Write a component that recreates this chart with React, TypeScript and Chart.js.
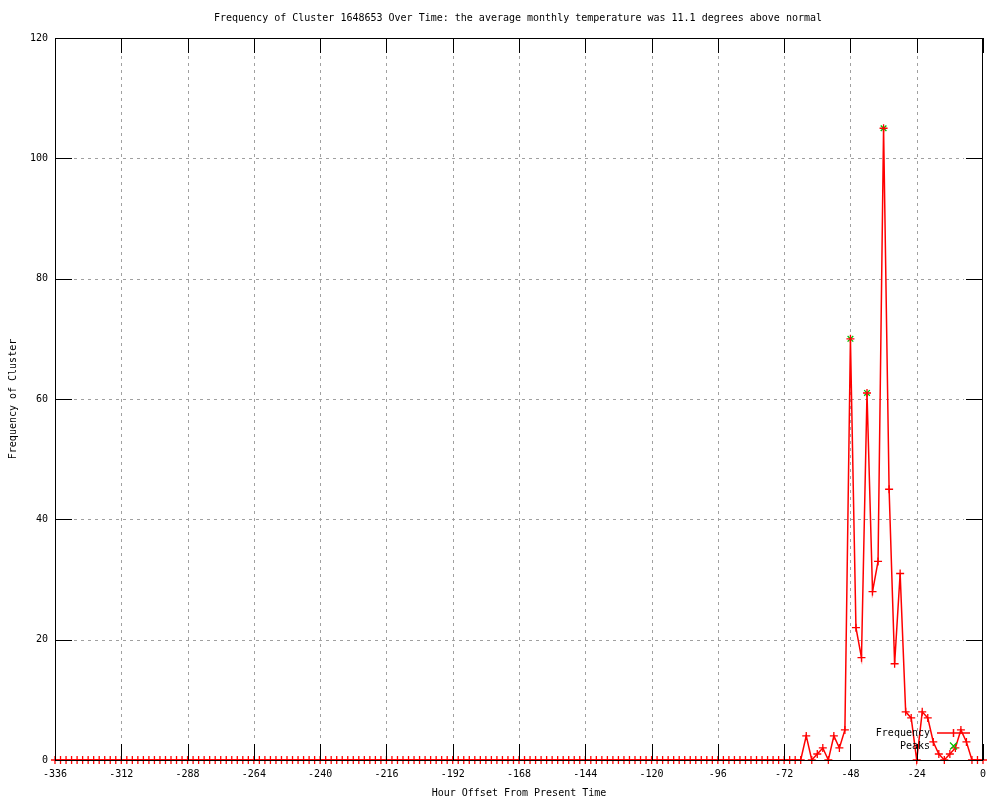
import { useEffect, useRef } from "react";
import { Chart, registerables } from "chart.js";

Chart.register(...registerables);

const TITLE =
  "Frequency of Cluster 1648653 Over Time: the average monthly temperature was 11.1 degrees above normal";
const X_TITLE = "Hour Offset From Present Time";
const Y_TITLE = "Frequency of Cluster";

const FIRST_HOUR = -336;
const HOUR_STEP = 2;

// one value every 2 hours, from -336 to 0
const frequency = [
  0, 0, 0, 0, 0, 0, 0, 0, 0, 0, 0, 0, 0, 0, 0, 0, 0, 0, 0, 0,
  0, 0, 0, 0, 0, 0, 0, 0, 0, 0, 0, 0, 0, 0, 0, 0, 0, 0, 0, 0,
  0, 0, 0, 0, 0, 0, 0, 0, 0, 0, 0, 0, 0, 0, 0, 0, 0, 0, 0, 0,
  0, 0, 0, 0, 0, 0, 0, 0, 0, 0, 0, 0, 0, 0, 0, 0, 0, 0, 0, 0,
  0, 0, 0, 0, 0, 0, 0, 0, 0, 0, 0, 0, 0, 0, 0, 0, 0, 0, 0, 0,
  0, 0, 0, 0, 0, 0, 0, 0, 0, 0, 0, 0, 0, 0, 0, 0, 0, 0, 0, 0,
  0, 0, 0, 0, 0, 0, 0, 0, 0, 0, 0, 0, 0, 0, 0, 0,
  // -64 .. 0
  4, 0, 1, 2, 0, 4, 2, 5, 70, 22, 17, 61, 28, 33, 105, 45, 16, 31, 8, 7,
  0, 8, 7, 3, 1, 0, 1, 2, 5, 3, 0, 0, 0,
];

const peakHours = [-48, -42, -36];
const peakValues = [70, 61, 105];

const xTickValues = [-336, -312, -288, -264, -240, -216, -192, -168, -144, -120, -96, -72, -48, -24, 0];
const yTickValues = [0, 20, 40, 60, 80, 100, 120];

const FONT = "DejaVu Sans Mono";
const RED = "#ff0000";
const GREEN = "#00c000";
const GRID = "#a0a0a0";

const gnuplotDecor = {
  id: "gnuplotDecor",
  beforeDatasetsDraw(chart: any) {
    const { ctx, chartArea } = chart;
    const { left, right, top, bottom } = chartArea;
    const xs = chart.scales.x;
    const ys = chart.scales.y;
    ctx.save();
    ctx.strokeStyle = GRID;
    ctx.lineWidth = 1;
    ctx.setLineDash([3, 4]);
    for (const v of xTickValues) {
      const px = Math.round(xs.getPixelForValue(v)) + 0.5;
      if (Math.abs(px - left) < 2 || Math.abs(px - right) < 2) continue;
      ctx.beginPath();
      ctx.moveTo(px, top + 18);
      ctx.lineTo(px, bottom - 18);
      ctx.stroke();
    }
    for (const v of yTickValues) {
      const py = Math.round(ys.getPixelForValue(v)) + 0.5;
      if (Math.abs(py - top) < 2 || Math.abs(py - bottom) < 2) continue;
      ctx.beginPath();
      ctx.moveTo(left + 19, py);
      ctx.lineTo(right - 19, py);
      ctx.stroke();
    }
    ctx.restore();
  },
  afterDatasetsDraw(chart: any) {
    const { ctx, chartArea } = chart;
    const { left, right, top, bottom } = chartArea;
    const xs = chart.scales.x;
    const ys = chart.scales.y;
    ctx.save();
    ctx.setLineDash([]);
    ctx.strokeStyle = "#000";
    ctx.lineWidth = 1;
    // border
    ctx.strokeRect(Math.round(left) + 0.5, Math.round(top) + 0.5, Math.round(right - left) - 1, Math.round(bottom - top));
    // inner ticks
    ctx.beginPath();
    for (const v of xTickValues) {
      const px = Math.round(xs.getPixelForValue(v)) + 0.5;
      ctx.moveTo(px, bottom);
      ctx.lineTo(px, bottom - 16);
      ctx.moveTo(px, top);
      ctx.lineTo(px, top + 15);
    }
    for (const v of yTickValues) {
      const py = Math.round(ys.getPixelForValue(v)) + 0.5;
      ctx.moveTo(left, py);
      ctx.lineTo(left + 17, py);
      ctx.moveTo(right, py);
      ctx.lineTo(right - 17, py);
    }
    ctx.stroke();

    // texts
    ctx.fillStyle = "#000";
    ctx.font = `10px "${FONT}"`;
    ctx.textBaseline = "middle";
    ctx.textAlign = "center";
    const cx = (left + right) / 2;
    ctx.fillText(TITLE, cx - 1, 18);
    ctx.fillText(X_TITLE, cx, 793);
    ctx.save();
    ctx.translate(13, (top + bottom) / 2);
    ctx.rotate(-Math.PI / 2);
    ctx.fillText(Y_TITLE, 0, 0);
    ctx.restore();

    // legend
    ctx.textAlign = "right";
    ctx.fillText("Frequency", 930, 733);
    ctx.fillText("Peaks", 930, 746);
    ctx.strokeStyle = RED;
    ctx.lineWidth = 1.5;
    ctx.beginPath();
    ctx.moveTo(937, 733);
    ctx.lineTo(970, 733);
    ctx.moveTo(953.5, 729);
    ctx.lineTo(953.5, 737);
    ctx.stroke();
    ctx.strokeStyle = GREEN;
    ctx.lineWidth = 1.2;
    ctx.beginPath();
    ctx.moveTo(950, 742.5);
    ctx.lineTo(957, 749.5);
    ctx.moveTo(957, 742.5);
    ctx.lineTo(950, 749.5);
    ctx.stroke();
    ctx.restore();
  },
};

export default function App() {
  const ref = useRef<HTMLCanvasElement | null>(null);

  useEffect(() => {
    document.body.style.margin = "0";
    const canvas = ref.current;
    if (!canvas) return;
    const freqPoints = frequency.map((v, i) => ({ x: FIRST_HOUR + i * HOUR_STEP, y: v }));
    const peakPoints = peakHours.map((h, i) => ({ x: h, y: peakValues[i] }));
    const tickFont = { family: FONT, size: 10 };
    const chart = new Chart(canvas, {
      type: "line",
      data: {
        datasets: [
          {
            label: "Frequency",
            data: freqPoints,
            borderColor: RED,
            backgroundColor: RED,
            borderWidth: 1.5,
            pointStyle: "cross",
            pointRadius: 4,
            pointBorderWidth: 1.3,
            pointBorderColor: RED,
            tension: 0,
            fill: false,
            clip: false,
          } as any,
          {
            label: "Peaks",
            data: peakPoints,
            showLine: false,
            borderColor: GREEN,
            backgroundColor: GREEN,
            pointStyle: "crossRot",
            pointRadius: 4,
            pointBorderWidth: 1.3,
            pointBorderColor: GREEN,
            clip: false,
          } as any,
        ],
      },
      options: {
        responsive: false,
        animation: false,
        devicePixelRatio: 1,
        layout: { padding: { top: 38, right: 17, left: 0, bottom: 0 } },
        plugins: {
          legend: { display: false },
          title: { display: false },
          tooltip: { enabled: false },
        },
        events: [],
        scales: {
          x: {
            type: "linear",
            min: -336,
            max: 0,
            afterFit: (s: any) => {
              s.height = 40;
            },
            afterBuildTicks: (s: any) => {
              s.ticks = xTickValues.map((v) => ({ value: v }));
            },
            ticks: {
              autoSkip: false,
              maxRotation: 0,
              padding: 8,
              color: "#000",
              font: tickFont,
              callback: (v: any) => String(v),
            },
            grid: { display: false, drawTicks: false },
            border: { display: false },
          },
          y: {
            type: "linear",
            min: 0,
            max: 120,
            afterFit: (s: any) => {
              s.width = 55;
            },
            afterBuildTicks: (s: any) => {
              s.ticks = yTickValues.map((v) => ({ value: v }));
            },
            ticks: {
              padding: 7,
              color: "#000",
              font: tickFont,
              callback: (v: any) => String(v),
            },
            grid: { display: false, drawTicks: false },
            border: { display: false },
          },
        },
      },
      plugins: [gnuplotDecor],
    });
    return () => chart.destroy();
  }, []);

  return (
    <div style={{ width: 1000, height: 800 }}>
      <canvas ref={ref} width={1000} height={800} style={{ display: "block", width: 1000, height: 800 }} />
    </div>
  );
}
